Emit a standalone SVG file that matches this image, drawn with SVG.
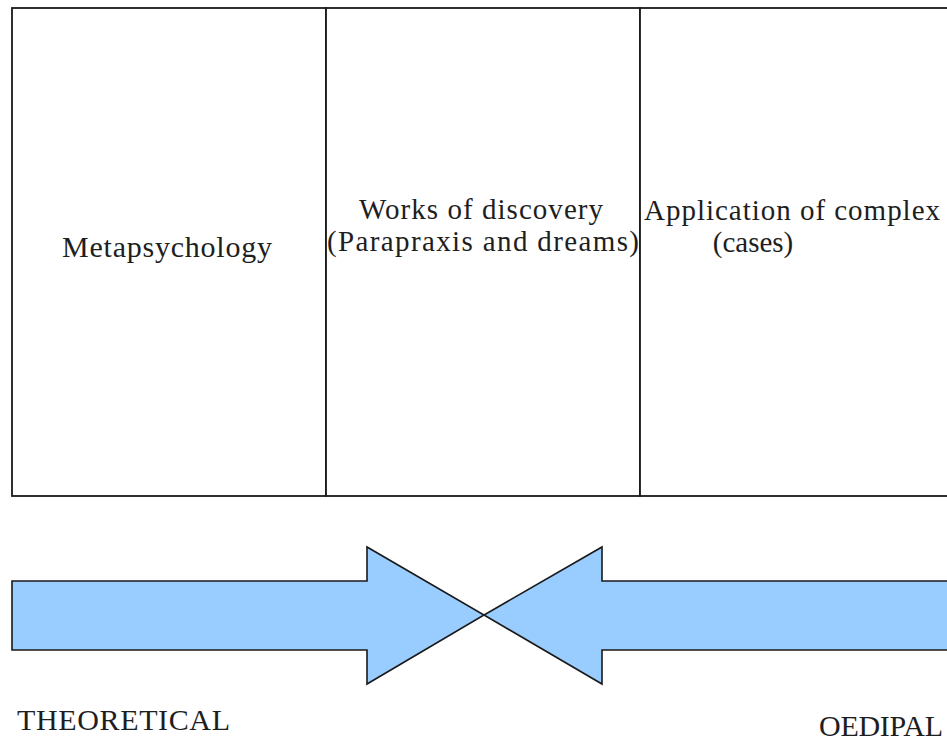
<svg xmlns="http://www.w3.org/2000/svg" width="947" height="747" viewBox="0 0 947 747">
<style>
.cell{fill:#ffffff;stroke:#1a1a1a;stroke-width:1.8}
.lbl{font-family:'Liberation Serif','Tinos','DejaVu Serif',serif;font-size:30px;fill:#1e1e1e}
.two{font-size:29px}
.arrow{fill:#99ccff;stroke:#1a1a1a;stroke-width:1.6;stroke-linejoin:miter}
</style>
<rect x="0" y="0" width="947" height="747" fill="#ffffff"/>
<g id="cell-metapsychology">
<rect class="cell" x="12" y="8" width="314" height="488"/>
<text class="lbl" x="62" y="257" textLength="210" lengthAdjust="spacing">Metapsychology</text>
</g>
<g id="cell-discovery">
<rect class="cell" x="326" y="8" width="314" height="488"/>
<text class="lbl two" x="359" y="219" textLength="244" lengthAdjust="spacing">Works of discovery</text>
<text class="lbl two" x="327" y="251" textLength="312" lengthAdjust="spacing">(Parapraxis and dreams)</text>
</g>
<g id="cell-application">
<rect class="cell" x="640" y="8" width="320" height="488"/>
<text class="lbl two" x="644" y="220" textLength="296" lengthAdjust="spacing">Application of complex</text>
<text class="lbl two" x="753" y="252" text-anchor="middle">(cases)</text>
</g>
<g id="connectors">
<polygon id="arrow-theoretical" class="arrow" points="12,581 367,581 367,547 484,615 367,684 367,650 12,650"/>
<polygon id="arrow-oedipal" class="arrow" points="960,581 602,581 602,547 484,615 602,684 602,650 960,650"/>
</g>
<g id="label-theoretical">
<text class="lbl" x="17" y="730" textLength="213" lengthAdjust="spacing">THEORETICAL</text>
</g>
<g id="label-oedipal">
<text class="lbl" x="819" y="736" textLength="124" lengthAdjust="spacing">OEDIPAL</text>
</g>
</svg>
